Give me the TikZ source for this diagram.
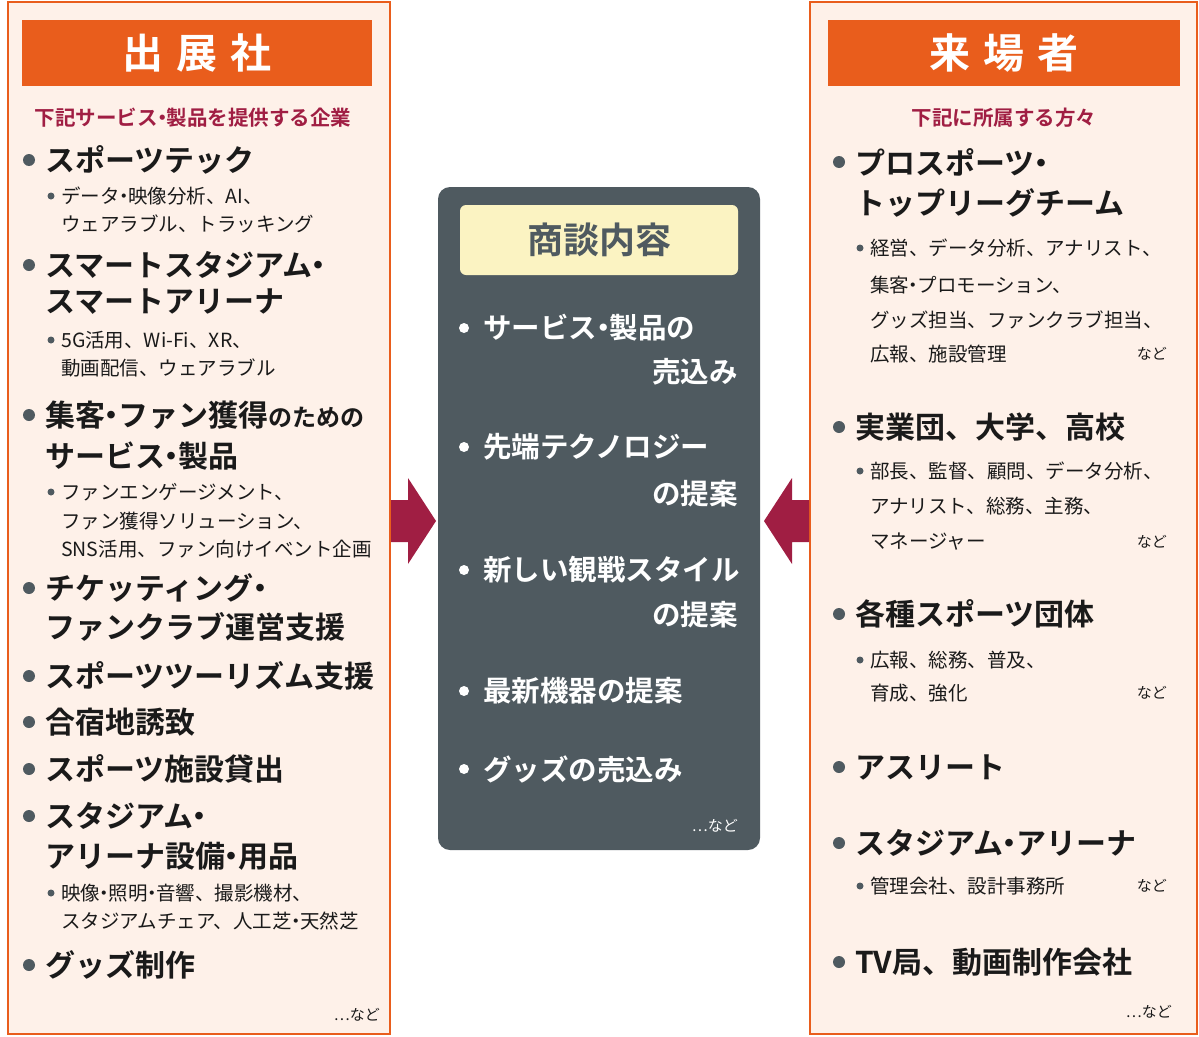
\documentclass[tikz,border=0pt]{standalone}
\usepackage{fontspec}
\setmainfont{Noto Sans CJK JP}[BoldFont={Noto Sans CJK JP Bold}]
\definecolor{org}{HTML}{E95D1C}
\definecolor{peach}{HTML}{FEF1E9}
\definecolor{crim}{HTML}{A01E43}
\definecolor{slate}{HTML}{4F5A60}
\definecolor{ylw}{HTML}{FBF3C2}
\definecolor{ink}{HTML}{1A1A1A}
\newcommand{\dt}{\kern-.28em・\kern-.28em}
\tikzset{
 panel/.style={draw=org,line width=1.2pt,fill=peach},
 hdr/.style={fill=org,text=white,font=\bfseries\fontsize{41}{43}\selectfont,inner sep=0},
 sub/.style={text=crim,font=\bfseries\fontsize{20.5}{22}\selectfont,inner sep=0},
 mt/.style={anchor=west,inner sep=0,text=ink,font=\bfseries\fontsize{30}{32}\selectfont},
 st/.style={anchor=west,inner sep=0,text=ink,font=\fontsize{19.5}{21}\selectfont},
 ct/.style={anchor=west,inner sep=0,text=white,font=\bfseries\fontsize{28.5}{30}\selectfont},
 cr/.style={anchor=east,inner sep=0,text=white,font=\bfseries\fontsize{28.5}{30}\selectfont},
 nado/.style={anchor=east,inner sep=0,font=\fontsize{15}{16}\selectfont},
 bb/.style={circle,fill=slate,inner sep=0,minimum size=12pt},
 sb/.style={circle,fill=slate,inner sep=0,minimum size=7pt},
 wb/.style={circle,fill=white,inner sep=0,minimum size=10pt},
 arr/.style={fill=crim,draw=none},
}
\newcommand{\LM}[3]{\node[bb] (#1b) at (29,#3) {}; \node[mt] (#1) at (45,#3) {#2};}
\newcommand{\LMc}[3]{\node[mt] (#1) at (45,#3) {#2};}
\newcommand{\LS}[3]{\node[sb] (#1b) at (51,#3) {}; \node[st] (#1) at (61,#3) {#2};}
\newcommand{\LSc}[3]{\node[st] (#1) at (61,#3) {#2};}
\newcommand{\RM}[3]{\node[bb] (#1b) at (839,#3) {}; \node[mt] (#1) at (855,#3) {#2};}
\newcommand{\RMc}[3]{\node[mt] (#1) at (855,#3) {#2};}
\newcommand{\RS}[3]{\node[sb] (#1b) at (860,#3) {}; \node[st] (#1) at (870,#3) {#2};}
\newcommand{\RSc}[3]{\node[st] (#1) at (870,#3) {#2};}
\newcommand{\RN}[2]{\node[nado,text=ink] (#1) at (1167,#2) {など};}
\begin{document}
\begin{tikzpicture}[x=1pt,y=-1pt]
\useasboundingbox (0,0) rectangle (1199,1036);
% left
\draw[panel] (8,2) rectangle (390,1034);
\node[hdr,minimum width=350pt,minimum height=66pt] (lh) at (197,53) {出\hspace{13pt}展\hspace{13pt}社};
\node[sub] (ls) at (193,118) {下記サービス\dt 製品を提供する企業};
\LM{l1}{スポーツテック}{160}
\LS{l2}{データ\dt 映像分析、AI、}{196}
\LSc{l3}{ウェアラブル、トラッキング}{224}
\LM{l4}{スマートスタジアム\dt}{265}
\LMc{l5}{スマートアリーナ}{302}
\LS{l6}{5G活用、Wi-Fi、XR、}{340}
\LSc{l7}{動画配信、ウェアラブル}{368}
\LM{l8}{集客\dt ファン獲得{\fontsize{24}{26}\selectfont のための}}{415}
\LMc{l9}{サービス\dt 製品}{456}
\LS{l10}{ファンエンゲージメント、}{492}
\LSc{l11}{ファン獲得ソリューション、}{521}
\LSc{l12}{SNS活用、ファン向けイベント企画}{549}
\LM{l13}{チケッティング\dt}{588}
\LMc{l14}{ファンクラブ運営支援}{627}
\LM{l15}{スポーツツーリズム支援}{676}
\LM{l16}{合宿地誘致}{722}
\LM{l17}{スポーツ施設貸出}{769}
\LM{l18}{スタジアム\dt}{816}
\LMc{l19}{アリーナ設備\dt 用品}{856}
\LS{l20}{映像\dt 照明\dt 音響、撮影機材、}{893}
\LSc{l21}{スタジアムチェア、人工芝\dt 天然芝}{921}
\LM{l22}{グッズ制作}{965}
\node[nado,text=ink] (l23) at (380,1015) {…など};
% right
\draw[panel] (810,2) rectangle (1197,1034);
\node[hdr,minimum width=352pt,minimum height=66pt] (rh) at (1004,53) {来\hspace{13pt}場\hspace{13pt}者};
\node[sub] (rs) at (1004,118) {下記に所属する方々};
\RM{r1}{プロスポーツ\dt}{162}
\RMc{r2}{トップリーグチーム}{203}
\RS{r3}{経営、データ分析、アナリスト、}{248}
\RSc{r4}{集客\dt プロモーション、}{285}
\RSc{r5}{グッズ担当、ファンクラブ担当、}{320}
\RSc{r6}{広報、施設管理}{354}\RN{r6n}{354}
\RM{r7}{実業団、大学、高校}{427}
\RS{r8}{部長、監督、顧問、データ分析、}{471}
\RSc{r9}{アナリスト、総務、主務、}{506}
\RSc{r10}{マネージャー}{542}\RN{r10n}{542}
\RM{r11}{各種スポーツ団体}{614}
\RS{r12}{広報、総務、普及、}{660}
\RSc{r13}{育成、強化}{693}\RN{r13n}{693}
\RM{r14}{アスリート}{767}
\RM{r15}{スタジアム\dt アリーナ}{843}
\RS{r16}{管理会社、設計事務所}{886}\RN{r16n}{886}
\RM{r17}{TV局、動画制作会社}{962}
\node[nado,text=ink] (r18) at (1172,1012) {…など};
% center
\node[fill=slate,rounded corners=12pt,minimum width=322pt,minimum height=663pt,inner sep=0] (cb) at (599,518.5) {};
\node[fill=ylw,rounded corners=6pt,minimum width=278pt,minimum height=70pt,inner sep=0,text=slate,font=\bfseries\fontsize{36}{38}\selectfont] (ch) at (599,240) {商談内容};
\node[wb] (c1b) at (464,328) {}; \node[ct] (c1) at (483,328) {サービス\dt 製品の};
\node[cr] (c2) at (738,372) {売込み};
\node[wb] (c3b) at (464,447) {}; \node[ct] (c3) at (483,447) {先端テクノロジー};
\node[cr] (c4) at (738,494) {の提案};
\node[wb] (c5b) at (464,570) {}; \node[ct] (c5) at (483,570) {新しい観戦スタイル};
\node[cr] (c6) at (738,615) {の提案};
\node[wb] (c7b) at (464,691) {}; \node[ct] (c7) at (483,691) {最新機器の提案};
\node[wb] (c8b) at (464,769) {}; \node[ct] (c8) at (483,769) {グッズの売込み};
\node[nado,text=white] (c9) at (738,826) {…など};
% arrows
\fill[arr] (391,500) -- (408,500) -- (408,478) -- (436,521) -- (408,564) -- (408,542) -- (391,542) -- cycle;
\fill[arr] (809,500) -- (792,500) -- (792,478) -- (764,521) -- (792,564) -- (792,542) -- (809,542) -- cycle;
\end{tikzpicture}
\end{document}
